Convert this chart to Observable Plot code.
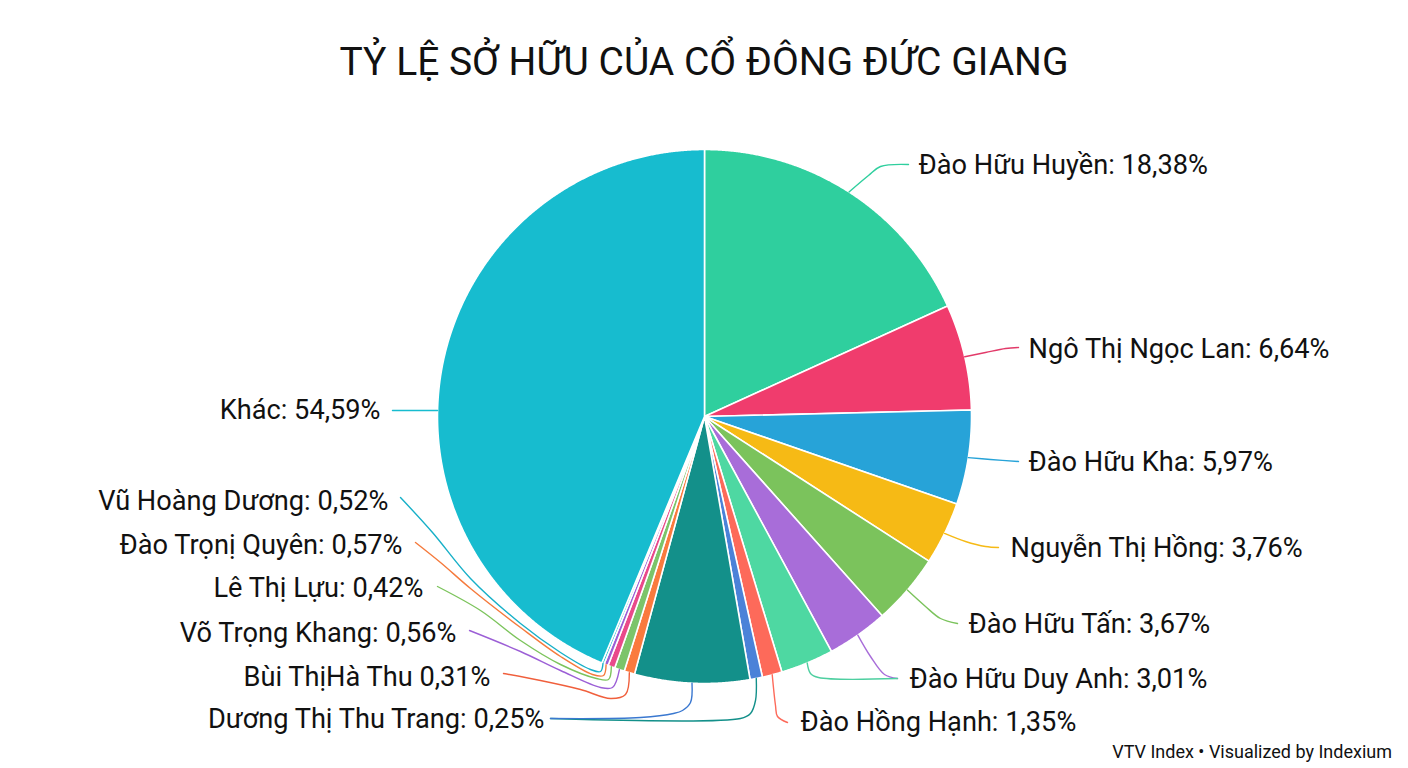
<!DOCTYPE html>
<html>
<head>
<meta charset="utf-8">
<script src="https://cdn.jsdelivr.net/npm/d3@7"></script>
<script src="https://cdn.jsdelivr.net/npm/@observablehq/plot@0.6"></script>
<style>
  html, body { margin: 0; padding: 0; background: #fff; }
  body { width: 1408px; height: 768px; overflow: hidden; font-family: Roboto, "Noto Sans", sans-serif; color: #111; }
  #title { box-sizing: border-box; height: 100px; padding-top: 43px; font-size: 39px; line-height: 1; text-align: center; font-weight: 400; }
  #chart svg { display: block; }
  #caption { box-sizing: border-box; height: 28px; padding-top: 3px; padding-right: 16px; font-size: 18px; line-height: 1; text-align: right; }
</style>
</head>
<body>
<div id="title">TỶ LỆ SỞ HỮU CỦA CỔ ĐÔNG ĐỨC GIANG</div>
<div id="chart"></div>
<div id="caption">VTV Index • Visualized by Indexium</div>
<script>
// ---------- DATA (slice sizes as drawn, clockwise from 12 o'clock) ----------
const sliceNames = [
  "Đào Hữu Huyền", "Ngô Thị Ngọc Lan", "Đào Hữu Kha", "Nguyễn Thị Hồng",
  "Đào Hữu Tấn", "Đào Hữu Duy Anh", "Không ghi nhãn (xanh lá)", "Đào Hồng Hạnh",
  "Dương Thị Thu Trang", "Không ghi nhãn (xanh đậm)", "Bùi ThịHà Thu", "Lê Thị Lựu",
  "Đào Trọnị Quyên", "Võ Trọng Khang", "Vũ Hoàng Dương", "Khác"
];
const sliceShares = [18.2, 6.4, 5.7, 3.8, 4.3, 3.7, 3.2, 1.2, 0.75, 6.95, 0.64, 0.6, 0.42, 0.25, 0.15, 43.7];
const sliceColors = [
  "#2fcf9e", "#f03c6d", "#27a3d8", "#f6ba15", "#7bc35c", "#a86dd9", "#4ed8a2", "#fd6a5a",
  "#4b82d8", "#13908a", "#fa7a3e", "#7cc46a", "#e9498b", "#9c5fd6", "#18bbd0", "#17bccf"
];

// ---------- DATA (printed labels) ----------
const labelNames = [
  "Đào Hữu Huyền", "Ngô Thị Ngọc Lan", "Đào Hữu Kha", "Nguyễn Thị Hồng", "Đào Hữu Tấn",
  "Đào Hữu Duy Anh", "Đào Hồng Hạnh",
  "Khác", "Vũ Hoàng Dương", "Đào Trọnị Quyên", "Lê Thị Lựu", "Võ Trọng Khang",
  "Bùi ThịHà Thu", "Dương Thị Thu Trang"
];
const labelValues = [18.38, 6.64, 5.97, 3.76, 3.67, 3.01, 1.35, 54.59, 0.52, 0.57, 0.42, 0.56, 0.31, 0.25];
const labelSeparators = [": ", ": ", ": ", ": ", ": ", ": ", ": ", ": ", ": ", ": ", ": ", ": ", " ", ": "];

// ---------- LAYOUT ----------
const W = 1408, H = 640, TOP = 100;
const CX = 704, CY = 416 - TOP, R = 267;
const FONT = "Roboto";
const FS = 27.2;
// label anchor positions (page px) and side
const labelLayout = [
  {side: "right", x: 918, y: 165}, {side: "right", x: 1028, y: 349}, {side: "right", x: 1028, y: 462},
  {side: "right", x: 1010, y: 548}, {side: "right", x: 968, y: 624}, {side: "right", x: 909, y: 679},
  {side: "right", x: 800, y: 722},
  {side: "left", x: 380, y: 410}, {side: "left", x: 388, y: 501}, {side: "left", x: 402, y: 545},
  {side: "left", x: 423, y: 588}, {side: "left", x: 456, y: 633}, {side: "left", x: 490, y: 677},
  {side: "left", x: 544, y: 719}
];
// leader lines: start on the pie edge of a slice (mid-angle unless "at" given), then waypoints (page px)
const leaders = [
  {slice: 0, color: "#2fcf9e", pts: [[868,175],[880,166],[908,164]]},
  {slice: 1, color: "#e23a69", pts: [[985,352],[1005,348],[1018,347]]},
  {slice: 2, color: "#27a3d8", pts: [[990,459],[1018,461]]},
  {slice: 3, color: "#f6ba15", pts: [[965,541],[985,546],[998,547]]},
  {slice: 4, color: "#7bc35c", pts: [[925,606],[940,618],[957,623]]},
  {slice: 5, color: "#a86dd9", pts: [[870,656],[884,674],[897,678]]},
  {slice: 6, color: "#4ecfa0", pts: [[810,673],[818,677],[897,678]]},
  {slice: 7, color: "#fd6a5a", pts: [[775,705],[777,716],[787,722]]},
  {slice: 8, color: "#13908a", pts: [[755,700],[750,713],[740,718],[550,718]]},
  {slice: 9, color: "#3a78d0", pts: [[690,702],[682,710],[673,713],[640,717],[550,718]]},
  {slice: 15, at: 271.3, color: "#17bccf", pts: [[392,410]]},
  {slice: 14, color: "#17b0c8", pts: [[600,671],[590,669],[560,652],[520,623],[470,578],[432,532],[400,497]]},
  {slice: 13, color: "#f57a3c", pts: [[603,675],[592,674],[560,656],[520,627],[470,588],[440,562],[415,542]]},
  {slice: 12, color: "#7cc45c", pts: [[608,679],[596,678],[560,664],[520,640],[480,610],[437,586]]},
  {slice: 11, color: "#9c5fd6", pts: [[612,687],[600,687],[560,670],[520,651],[469,630]]},
  {slice: 10, color: "#f05f3c", pts: [[625,694],[610,698],[580,689],[540,680],[503,673]]}
];

// ---------- BUILD ----------
const slices = sliceNames.map((name, i) => ({name, share: sliceShares[i]}));
const arcs = d3.pie().sort(null).value(d => d.share)(slices);

const polyRows = [];
arcs.forEach(a => {
  const n = Math.max(2, Math.ceil((a.endAngle - a.startAngle) / 0.004));
  polyRows.push({name: a.data.name, x: CX, y: CY});
  for (let k = 0; k <= n; k++) {
    const t = a.startAngle + (a.endAngle - a.startAngle) * k / n;
    polyRows.push({name: a.data.name, x: CX + R * Math.sin(t), y: CY - R * Math.cos(t)});
  }
  polyRows.push({name: a.data.name, x: CX, y: CY});
});

const fmt = v => v.toFixed(2).replace(".", ",") + "%";
const labels = labelNames.map((name, i) => ({
  text: name + labelSeparators[i] + fmt(labelValues[i]),
  side: labelLayout[i].side,
  x: labelLayout[i].x,
  y: labelLayout[i].y - TOP
}));

const leaderMarks = leaders.map(l => {
  const a = arcs[l.slice];
  const t = l.at != null ? l.at * Math.PI / 180 : (a.startAngle + a.endAngle) / 2;
  const start = {x: CX + R * Math.sin(t), y: CY - R * Math.cos(t)};
  const pts = [start, ...l.pts.map(([x, y]) => ({x, y: y - TOP}))];
  return Plot.line(pts, {x: "x", y: "y", stroke: l.color, strokeWidth: 1.4, curve: "catmull-rom"});
});

const chart = Plot.plot({
  width: W,
  height: H,
  margin: 0,
  x: {domain: [0, W], range: [0, W], axis: null},
  y: {domain: [0, H], range: [0, H], axis: null},
  color: {domain: sliceNames, range: sliceColors},
  style: {background: "#fff", overflow: "visible"},
  marks: [
    Plot.line(polyRows, {x: "x", y: "y", z: "name", fill: "name", stroke: "#fff", strokeWidth: 1.6, curve: "linear"}),
    ...leaderMarks,
    Plot.text(labels.filter(d => d.side === "right"), {x: "x", y: "y", text: "text", textAnchor: "start", fontSize: FS, fontFamily: FONT, fill: "#111"}),
    Plot.text(labels.filter(d => d.side === "left"), {x: "x", y: "y", text: "text", textAnchor: "end", fontSize: FS, fontFamily: FONT, fill: "#111"})
  ]
});
document.getElementById("chart").appendChild(chart);
</script>
</body>
</html>
